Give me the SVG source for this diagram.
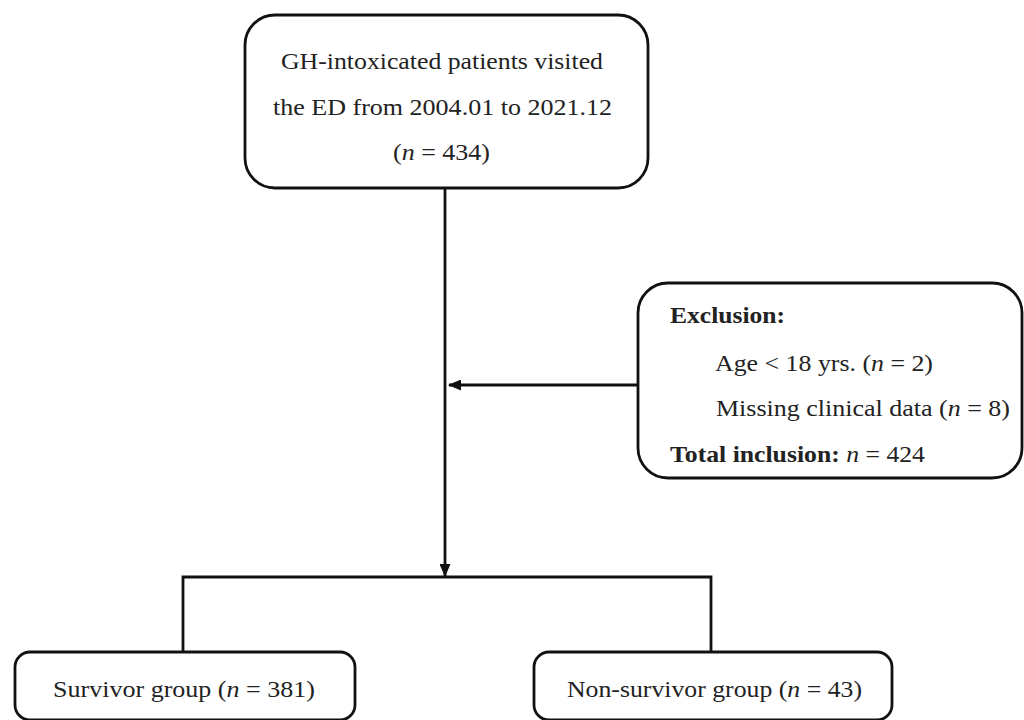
<svg xmlns="http://www.w3.org/2000/svg" width="1024" height="720" viewBox="0 0 1024 720">
<style>
.box{fill:#fff;stroke:#111;stroke-width:2.8}
.t{font-family:"Liberation Serif","Times New Roman",serif;font-size:23.5px;fill:#222}
.c{text-anchor:middle}
.b{font-weight:bold}
.i{font-style:italic}
.ln{fill:none;stroke:#111;stroke-width:2.8}
</style>
<defs>
<marker id="ah" markerWidth="13" markerHeight="11" refX="12" refY="5.5" orient="auto" markerUnits="userSpaceOnUse">
<path d="M0,0 L13,5.5 L0,11 z" fill="#111"/>
</marker>
</defs>
<rect width="1024" height="720" fill="#fff"/>
<g id="connectors">
<path class="ln" d="M445,188 V576" marker-end="url(#ah)"/>
<path class="ln" d="M638,385 H449" marker-end="url(#ah)"/>
<path class="ln" d="M183,652 V577 H711 V652"/>
</g>
<g id="node-top">
<rect class="box" x="245" y="15" width="403" height="173" rx="30"/>
<text class="t c" x="442" y="69" textLength="322" lengthAdjust="spacingAndGlyphs">GH-intoxicated patients visited</text>
<text class="t c" x="442.5" y="115" textLength="339" lengthAdjust="spacingAndGlyphs">the ED from 2004.01 to 2021.12</text>
<text class="t c" x="441.5" y="160" textLength="97" lengthAdjust="spacingAndGlyphs">(<tspan class="i">n</tspan> = 434)</text>
</g>
<g id="node-exclusion">
<rect class="box" x="638" y="283" width="384" height="195" rx="30"/>
<text class="t b" x="670" y="323" textLength="115" lengthAdjust="spacingAndGlyphs">Exclusion:</text>
<text class="t" x="715" y="371" textLength="218" lengthAdjust="spacingAndGlyphs">Age &lt; 18 yrs. (<tspan class="i">n</tspan> = 2)</text>
<text class="t" x="716" y="416" textLength="294" lengthAdjust="spacingAndGlyphs">Missing clinical data (<tspan class="i">n</tspan> = 8)</text>
<text class="t" x="670" y="462" textLength="255" lengthAdjust="spacingAndGlyphs"><tspan class="b">Total inclusion:</tspan> <tspan class="i">n</tspan> = 424</text>
</g>
<g id="node-survivor">
<rect class="box" x="15" y="652" width="340" height="68" rx="15"/>
<text class="t" x="53" y="697" textLength="262" lengthAdjust="spacingAndGlyphs">Survivor group (<tspan class="i">n</tspan> = 381)</text>
</g>
<g id="node-nonsurvivor">
<rect class="box" x="534" y="652" width="358" height="68" rx="15"/>
<text class="t" x="567" y="697" textLength="295" lengthAdjust="spacingAndGlyphs">Non-survivor group (<tspan class="i">n</tspan> = 43)</text>
</g>
</svg>
